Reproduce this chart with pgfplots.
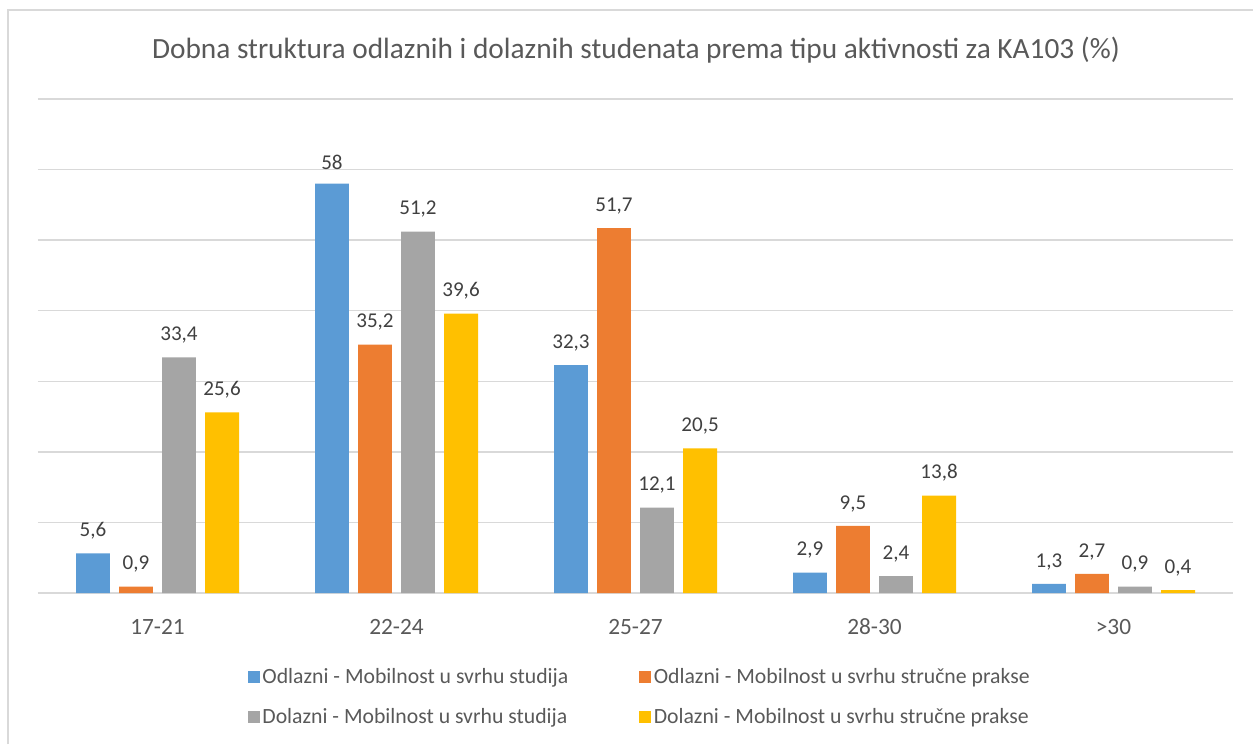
\documentclass[border=0pt]{standalone}
\usepackage{fontspec}
\setmainfont{Carlito}
\usepackage{pgfplots}
\pgfplotsset{compat=1.18}
\definecolor{cblue}{HTML}{5B9BD5}
\definecolor{corange}{HTML}{ED7D31}
\definecolor{cgray}{HTML}{A5A5A5}
\definecolor{cgold}{HTML}{FFC000}
\definecolor{gridc}{HTML}{D9D9D9}
\definecolor{txt}{HTML}{595959}
\definecolor{lbl}{HTML}{404040}
\begin{document}
\begin{tikzpicture}
\path[use as bounding box] (0,0) rectangle (939.75pt,-558pt);
\draw[gridc, line width=1.2pt] (6pt,-558pt) -- (6pt,-7.5pt) -- (939.75pt,-7.5pt);
\node[txt, font=\fontsize{22}{26}\selectfont] at (477pt,-37.5pt) {Dobna struktura odlaznih i dolaznih studenata prema tipu aktivnosti za KA103 (\%)};
\begin{axis}[
  at={(28.5pt,-444.75pt)}, anchor=south west,
  scale only axis, width=896.25pt, height=370.5pt,
  xmin=-0.5, xmax=4.5, ymin=0, ymax=70,
  ytick={0,10,...,70}, yticklabels={},
  ymajorgrids, grid style={gridc, line width=1pt},
  axis line style={draw=none},
  major tick length=0pt,
  xtick={0,1,2,3,4},
  xticklabels={17-21,22-24,25-27,28-30,>30},
  xticklabel style={txt, font=\fontsize{17.5}{20}\selectfont, yshift=-16pt},
  clip=false,
  ybar,
  bar width=0.142,
  nodes near coords={\pgfmathprintnumber[assume math mode=true,use comma]{\pgfplotspointmeta}},
  every node near coord/.append style={lbl, font=\fontsize{15.8}{19}\selectfont, yshift=7pt},
  legend columns=2,
  legend style={at={(axis description cs:0.5038,-0.21)}, anchor=center, draw=none, fill=none,
    font=\fontsize{16.3}{19}\selectfont, text=txt,
    row sep=17.5pt,
    /tikz/column 2/.style={column sep=51pt},
    nodes={inner xsep=2pt, inner ysep=0pt}},
  legend cell align=left,
  legend image code/.code={\fill[#1] (0pt,-4.5pt) rectangle (9pt,4.5pt);},
]
\addplot[bar shift=-0.27, fill=cblue, draw=none] coordinates {(0,5.6) (1,58) (2,32.3) (3,2.9) (4,1.3)};
\addplot[bar shift=-0.09, fill=corange, draw=none] coordinates {(0,0.9) (1,35.2) (2,51.7) (3,9.5) (4,2.7)};
\addplot[bar shift=0.09, fill=cgray, draw=none] coordinates {(0,33.4) (1,51.2) (2,12.1) (3,2.4) (4,0.9)};
\addplot[bar shift=0.27, fill=cgold, draw=none] coordinates {(0,25.6) (1,39.6) (2,20.5) (3,13.8) (4,0.4)};
\legend{Odlazni - Mobilnost u svrhu studija, Odlazni - Mobilnost u svrhu stručne prakse, Dolazni - Mobilnost u svrhu studija, Dolazni - Mobilnost u svrhu stručne prakse}
\end{axis}
\end{tikzpicture}
\end{document}
